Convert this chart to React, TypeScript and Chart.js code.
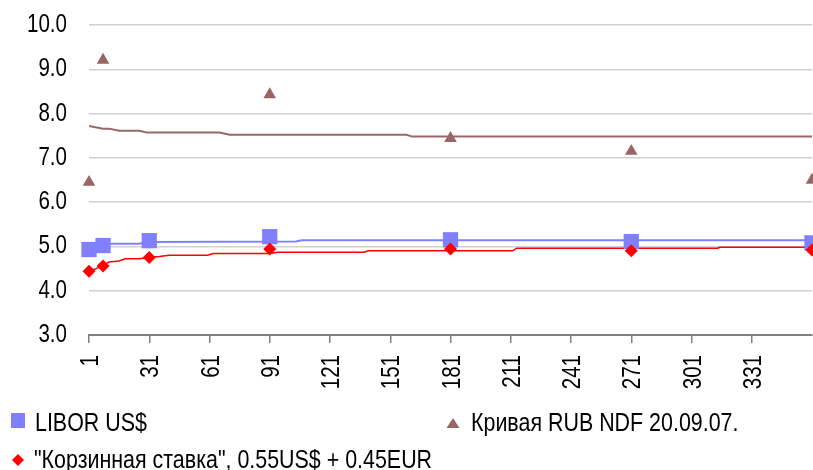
import React, { useEffect, useRef } from "react";
import { Chart, registerables } from "chart.js";

Chart.register(...registerables);

// Days on the horizontal axis that carry a tick and label
const tickDays = [1, 31, 61, 91, 121, 151, 181, 211, 241, 271, 301, 331];

// Quoted tenors (days) for the market points
const pointDays = [1, 8, 31, 91, 181, 271, 361];
const ndfDays = [1, 8, 91, 181, 271, 361];

// Market quotes, % p.a.
const liborPoints = [4.93, 5.02, 5.13, 5.22, 5.15, 5.11, 5.08];
const basketPoints = [4.44, 4.56, 4.75, 4.94, 4.94, 4.9, 4.92];
const ndfPoints = [6.45, 9.21, 8.43, 7.44, 7.15, 6.5];

// Interpolated daily curves, given by their break points (day, rate)
const ndfCurveDays = [1, 8, 11, 16, 26, 30, 66, 71, 159, 162, 361];
const ndfCurveRates = [7.72, 7.66, 7.66, 7.61, 7.61, 7.57, 7.57, 7.52, 7.52, 7.48, 7.48];

const liborCurveDays = [1, 8, 11, 26, 30, 104, 107, 361];
const liborCurveRates = [4.97, 5.03, 5.06, 5.06, 5.1, 5.11, 5.14, 5.14];

const basketCurveDays = [1, 8, 11, 16, 19, 26, 31, 36, 41, 60, 63, 91, 95, 138, 140, 212, 214, 314, 315, 361];
const basketCurveRates = [4.44, 4.56, 4.65, 4.67, 4.72, 4.72, 4.75, 4.77, 4.8, 4.8, 4.84, 4.84, 4.87, 4.87, 4.9, 4.9, 4.96, 4.96, 4.98, 4.98];

const labels = {
  libor: "LIBOR US$",
  ndf: "Кривая RUB NDF 20.09.07.",
  basket: "\"Корзинная ставка\", 0.55US$ + 0.45EUR",
};

const COLORS = {
  libor: "#8080FF",
  basket: "#FF0000",
  ndf: "#996666",
};

const FONT = "'Liberation Sans', Arial, sans-serif";
const AXIS_FONT_SIZE = 26;
const LEGEND_FONT_SIZE = 25.5;
const AXIS_NARROW = 0.79; // horizontal squeeze of axis labels
const LEGEND_NARROW = 0.84; // horizontal squeeze of legend text

const zip = (xs: number[], ys: number[]) => xs.map((x, i) => ({ x, y: ys[i] }));

// Draws text squeezed along its baseline
function narrowText(
  ctx: CanvasRenderingContext2D,
  text: string,
  x: number,
  y: number,
  align: CanvasTextAlign,
  squeeze: number,
  rotate = 0
) {
  ctx.save();
  ctx.translate(x, y);
  if (rotate) ctx.rotate(rotate);
  ctx.scale(squeeze, 1);
  ctx.textAlign = align;
  ctx.textBaseline = "alphabetic";
  ctx.fillText(text, 0, 0);
  ctx.restore();
}

// Axis labels and the legend, all in the squeezed face
const textPlugin = {
  id: "narrowText",
  afterDraw(chart: Chart) {
    const ctx = chart.ctx;
    const xs: any = chart.scales.x;
    const ys: any = chart.scales.y;
    const area = chart.chartArea;
    ctx.save();
    ctx.fillStyle = "#000";
    ctx.font = `${AXIS_FONT_SIZE}px ${FONT}`;

    // value axis labels
    for (const t of ys.ticks) {
      const py = ys.getPixelForValue(t.value);
      narrowText(ctx, Number(t.value).toFixed(1), area.left - 22, py + 7, "right", AXIS_NARROW);
    }

    // day axis labels, rotated to read bottom-up
    for (const t of xs.ticks) {
      const px = xs.getPixelForValue(t.value);
      narrowText(ctx, String(t.value), px + 9, area.bottom + 20, "right", AXIS_NARROW, -Math.PI / 2);
    }

    ctx.font = `${LEGEND_FONT_SIZE}px ${FONT}`;

    // legend: square
    ctx.fillStyle = COLORS.libor;
    ctx.fillRect(11, 413, 14, 15);
    ctx.fillStyle = "#000";
    narrowText(ctx, labels.libor, 35, 431, "left", LEGEND_NARROW);

    // legend: triangle
    ctx.fillStyle = COLORS.ndf;
    ctx.beginPath();
    ctx.moveTo(453, 418);
    ctx.lineTo(459.5, 428);
    ctx.lineTo(446.5, 428);
    ctx.closePath();
    ctx.fill();
    ctx.fillStyle = "#000";
    narrowText(ctx, labels.ndf, 471, 431, "left", LEGEND_NARROW);

    // legend: diamond
    ctx.fillStyle = COLORS.basket;
    ctx.beginPath();
    ctx.moveTo(18, 454);
    ctx.lineTo(24, 460);
    ctx.lineTo(18, 466);
    ctx.lineTo(12, 460);
    ctx.closePath();
    ctx.fill();
    ctx.fillStyle = "#000";
    narrowText(ctx, labels.basket, 34, 468, "left", LEGEND_NARROW);
    ctx.restore();
  },
};

export default function App() {
  const ref = useRef<HTMLCanvasElement | null>(null);

  useEffect(() => {
    if (!ref.current) return;
    const chart = new Chart(ref.current, {
      type: "scatter",
      data: {
        datasets: [
          {
            label: "ndfCurve",
            data: zip(ndfCurveDays, ndfCurveRates),
            showLine: true,
            borderColor: COLORS.ndf,
            borderWidth: 2,
            pointRadius: 0,
            order: 10,
          },
          {
            label: "liborCurve",
            data: zip(liborCurveDays, liborCurveRates),
            showLine: true,
            borderColor: COLORS.libor,
            borderWidth: 2,
            pointRadius: 0,
            order: 11,
          },
          {
            label: "basketCurve",
            data: zip(basketCurveDays, basketCurveRates),
            showLine: true,
            borderColor: COLORS.basket,
            borderWidth: 1.5,
            pointRadius: 0,
            order: 9,
          },
          {
            label: labels.libor,
            data: zip(pointDays, liborPoints),
            pointStyle: "rect",
            pointRadius: 10.8,
            backgroundColor: COLORS.libor,
            borderColor: COLORS.libor,
            borderWidth: 0,
            clip: false,
            order: 3,
          },
          {
            label: labels.basket,
            data: zip(pointDays, basketPoints),
            pointStyle: "rectRot",
            pointRadius: 6.5,
            backgroundColor: COLORS.basket,
            borderColor: COLORS.basket,
            borderWidth: 0,
            clip: false,
            order: 2,
          },
          {
            label: labels.ndf,
            data: zip(ndfDays, ndfPoints),
            pointStyle: "triangle",
            pointRadius: 7.3,
            backgroundColor: COLORS.ndf,
            borderColor: COLORS.ndf,
            borderWidth: 0,
            clip: false,
            order: 1,
          },
        ],
      },
      options: {
        animation: false,
        responsive: false,
        events: [],
        layout: { autoPadding: false, padding: { top: 25, right: 1, left: 0, bottom: 0 } },
        plugins: {
          legend: { display: false },
          tooltip: { enabled: false },
        },
        scales: {
          x: {
            type: "linear",
            min: 1,
            max: 361,
            afterBuildTicks: (s: any) => {
              s.ticks = tickDays.map((v) => ({ value: v }));
            },
            afterFit: (s: any) => {
              s.height = 135;
            },
            grid: {
              drawOnChartArea: false,
              drawTicks: true,
              tickLength: 8,
              color: "#808080",
              lineWidth: 1.5,
            },
            border: { display: true, color: "#808080", width: 2 },
            ticks: { display: false, autoSkip: false },
          },
          y: {
            min: 3,
            max: 10,
            afterFit: (s: any) => {
              s.width = 89;
            },
            ticks: { display: false, stepSize: 1 },
            grid: {
              drawTicks: false,
              color: (c: any) => (c.tick && c.tick.value === 3 ? "rgba(0,0,0,0)" : "#d0d0d0"),
              lineWidth: 1.5,
            },
            border: { display: false },
          },
        },
      },
      plugins: [textPlugin],
    });
    return () => chart.destroy();
  }, []);

  return (
    <div style={{ position: "absolute", left: 0, top: 0, width: 813, height: 470, background: "#fff" }}>
      <canvas ref={ref} width={813} height={470} style={{ width: 813, height: 470, display: "block" }} />
    </div>
  );
}
